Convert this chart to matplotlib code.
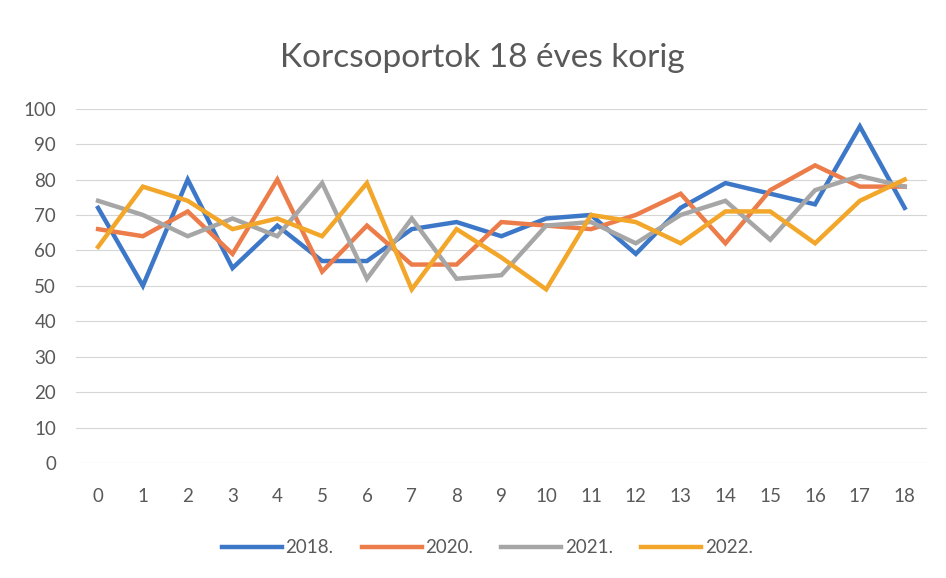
import matplotlib
matplotlib.use("Agg")
import matplotlib.pyplot as plt

ages = list(range(19))
s2018 = [72, 50, 80, 55, 67, 57, 57, 66, 68, 64, 69, 70, 59, 72, 79, 76, 73, 95, 72]
s2020 = [66, 64, 71, 59, 80, 54, 67, 56, 56, 68, 67, 66, 70, 76, 62, 77, 84, 78, 78]
s2021 = [74, 70, 64, 69, 64, 79, 52, 69, 52, 53, 67, 68, 62, 70, 74, 63, 77, 81, 78]
s2022 = [61, 78, 74, 66, 69, 64, 79, 49, 66, 58, 49, 70, 68, 62, 71, 71, 62, 74, 80]
labels = ["2018.", "2020.", "2021.", "2022."]
colors = ["#3d78c8", "#ec7d4a", "#a6a6a6", "#f2a62a"]
yticks = list(range(0, 101, 10))

plt.rcParams['font.family'] = ['Lato', 'DejaVu Sans']
fig = plt.figure(figsize=(9.46, 5.78), dpi=100)
ax = fig.add_axes([0.080, 0.199, 0.900, 0.613])

for data, lab, col in zip([s2018, s2020, s2021, s2022], labels, colors):
    ax.plot(ages, data, color=col, lw=3.2, label=lab, solid_joinstyle='miter')

ax.set_xlim(-0.5, 18.5)
ax.set_ylim(0, 100)
ax.set_yticks(yticks)
ax.set_xticks(ages)
ax.grid(axis='y', color='#d6d6d6', lw=0.8)
ax.set_axisbelow(True)
for s in ax.spines.values():
    s.set_visible(False)
ax.tick_params(length=0, labelsize=13.5, colors='#595959')
ax.tick_params(axis='x', pad=18)
ax.tick_params(axis='y', pad=14)

fig.text(0.510, 0.90, "Korcsoportok 18 éves korig", ha='center', va='center',
         fontsize=24, color='#595959')

fig.legend(loc='center', bbox_to_anchor=(0.515, 0.052), ncol=4, frameon=False,
           fontsize=13.5, handlelength=3.2, handletextpad=0.2, columnspacing=1.5,
           labelcolor='#595959')

fig.savefig("out.png", dpi=100)
